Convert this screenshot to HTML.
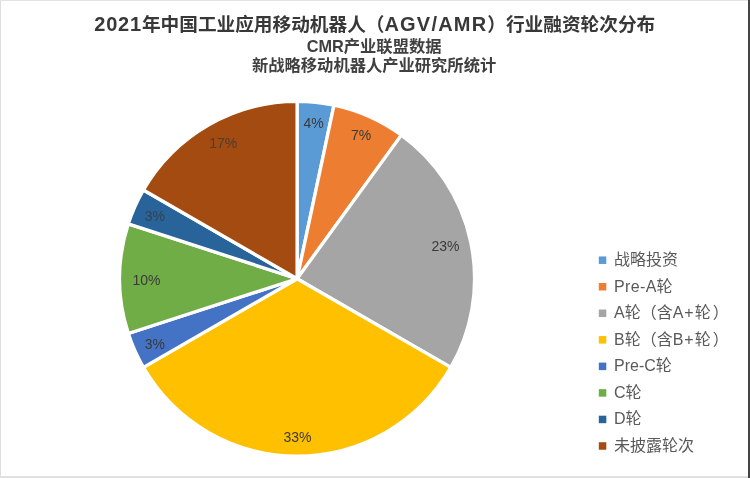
<!DOCTYPE html>
<html lang="zh-CN"><head><meta charset="utf-8"><title>2021年中国工业应用移动机器人（AGV/AMR）行业融资轮次分布</title>
<style>
html,body{margin:0;padding:0;background:#fff;}
body{width:750px;height:478px;overflow:hidden;position:relative;font-family:"Liberation Sans","Noto Sans CJK SC",sans-serif;}
#chart{position:absolute;left:0;top:0;width:750px;height:478px;background:#fff;}
#chart i{position:absolute;display:block;}
#bl{left:0;top:0;width:1px;height:478px;background:#dedede;}
#bt{left:0;top:0;width:748px;height:1px;background:#e4e4e4;}
#bb{left:0;top:476px;width:748px;height:2px;background:linear-gradient(#ececec,#dcdcdc 50%,#dcdcdc);}
#br{left:748px;top:0;width:2px;height:478px;background:#444;}
svg{position:absolute;left:0;top:0;}
.title{font-weight:bold;fill:#383838;font-size:18.67px;}
.sub{font-weight:bold;fill:#404040;font-size:16.3px;}
.lab text{font-size:14px;fill:#3a3a3a;}
.leg text{font-size:16px;fill:#595959;}
.pie path{stroke:#fff;stroke-width:3.3;stroke-linejoin:round;}
</style></head><body>
<div id="chart"><i id="bl"></i><i id="bt"></i><i id="bb"></i><i id="br"></i></div>
<svg width="750" height="478" viewBox="0 0 750 478" font-family="'Liberation Sans','Noto Sans CJK SC',sans-serif">
<text class="title" x="374.7" y="31" text-anchor="middle"><tspan font-size="20" letter-spacing="0.8">2021</tspan>年中国工业应用移动机器人（<tspan font-size="20" letter-spacing="1.2">AGV/AMR</tspan>）行业融资轮次分布</text>
<text class="sub" x="374.1" y="52" text-anchor="middle">CMR产业联盟数据</text>
<text class="sub" x="374.1" y="71.3" text-anchor="middle">新战略移动机器人产业研究所统计</text>
<g class="pie">
<path d="M297.10,278.70 L297.10,101.25 A177.45,177.45 0 0 1 333.99,105.13 Z" fill="#5B9BD5"/>
<path d="M297.10,278.70 L333.99,105.13 A177.45,177.45 0 0 1 401.40,135.14 Z" fill="#ED7D31"/>
<path d="M297.10,278.70 L401.40,135.14 A177.45,177.45 0 0 1 450.78,367.42 Z" fill="#A5A5A5"/>
<path d="M297.10,278.70 L450.78,367.42 A177.45,177.45 0 0 1 143.42,367.43 Z" fill="#FFC000"/>
<path d="M297.10,278.70 L143.42,367.43 A177.45,177.45 0 0 1 128.34,333.54 Z" fill="#4472C4"/>
<path d="M297.10,278.70 L128.34,333.54 A177.45,177.45 0 0 1 128.34,223.86 Z" fill="#70AD47"/>
<path d="M297.10,278.70 L128.34,223.86 A177.45,177.45 0 0 1 143.42,189.97 Z" fill="#28639A"/>
<path d="M297.10,278.70 L143.42,189.97 A177.45,177.45 0 0 1 297.10,101.25 Z" fill="#A34B10"/>
</g>
<g class="lab">
<text x="313.6" y="128.3" text-anchor="middle">4%</text>
<text x="361.1" y="140.1" text-anchor="middle">7%</text>
<text x="445.5" y="251.4" text-anchor="middle">23%</text>
<text x="297.4" y="442.4" text-anchor="middle">33%</text>
<text x="154.9" y="349.0" text-anchor="middle">3%</text>
<text x="146.5" y="285.3" text-anchor="middle">10%</text>
<text x="154.9" y="220.6" text-anchor="middle" fill-opacity="0.8">3%</text>
<text x="223.2" y="148.3" text-anchor="middle" fill-opacity="0.8">17%</text>
</g>
<g class="leg">
<rect x="598.8" y="256.45" width="7.5" height="7.5" fill="#5B9BD5"/>
<text x="614.0" y="265.0">战略投资</text>
<rect x="598.8" y="282.99" width="7.5" height="7.5" fill="#ED7D31"/>
<text x="614.0" y="291.5"><tspan letter-spacing="0.4">Pre-</tspan>A轮</text>
<rect x="598.8" y="309.53" width="7.5" height="7.5" fill="#A5A5A5"/>
<text x="614.0" y="318.1">A轮（含<tspan letter-spacing="1">A+</tspan>轮<tspan dx="2">）</tspan></text>
<rect x="598.8" y="336.07" width="7.5" height="7.5" fill="#FFC000"/>
<text x="614.0" y="344.6">B轮（含<tspan letter-spacing="1">B+</tspan>轮<tspan dx="2">）</tspan></text>
<rect x="598.8" y="362.61" width="7.5" height="7.5" fill="#4472C4"/>
<text x="614.0" y="371.2">Pre-C轮</text>
<rect x="598.8" y="389.15" width="7.5" height="7.5" fill="#70AD47"/>
<text x="614.0" y="397.7">C轮</text>
<rect x="598.8" y="415.69" width="7.5" height="7.5" fill="#28639A"/>
<text x="614.0" y="424.2">D轮</text>
<rect x="598.8" y="442.23" width="7.5" height="7.5" fill="#A34B10"/>
<text x="614.0" y="450.8">未披露轮次</text>
</g>
</svg>
</body></html>
